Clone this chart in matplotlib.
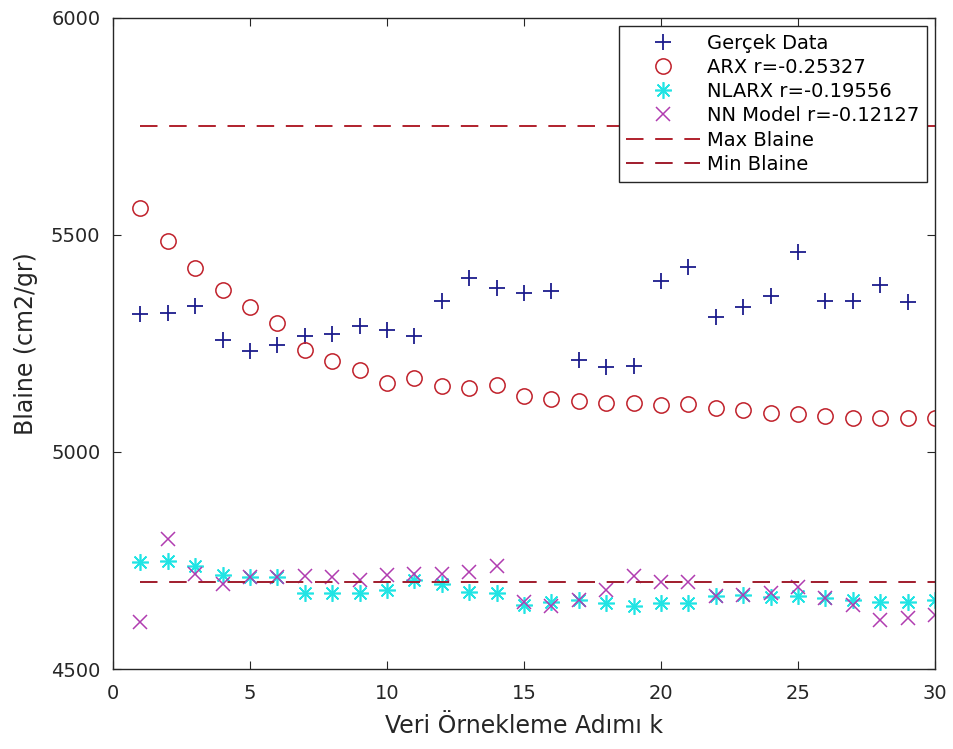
import numpy as np
import matplotlib
matplotlib.use("Agg")
import matplotlib.pyplot as plt

plt.rcParams['font.family'] = ['DejaVu Sans']

# ==============================
#  Data
# ==============================
k_real = np.arange(1, 30)
k_model = np.arange(1, 31)

gercek = [5319, 5321, 5336, 5259, 5233, 5246, 5267, 5273, 5290, 5282,
          5267, 5348, 5402, 5379, 5366, 5372, 5212, 5195, 5199, 5393,
          5426, 5311, 5334, 5360, 5460, 5349, 5349, 5385, 5345]

arx = [5562, 5487, 5425, 5373, 5333, 5298, 5236, 5210, 5188, 5160,
       5171, 5152, 5148, 5154, 5128, 5122, 5118, 5114, 5114, 5109,
       5110, 5101, 5097, 5091, 5087, 5082, 5078, 5078, 5078, 5078]

nlarx = [4746, 4750, 4737, 4717, 4713, 4711, 4676, 4676, 4676, 4682,
         4705, 4696, 4678, 4675, 4648, 4655, 4659, 4652, 4645, 4653,
         4653, 4668, 4671, 4667, 4668, 4663, 4659, 4655, 4655, 4659]

nn_model = [4609, 4799, 4719, 4696, 4713, 4713, 4714, 4711, 4705, 4717,
            4718, 4719, 4723, 4737, 4655, 4645, 4658, 4682, 4714, 4701,
            4701, 4668, 4671, 4675, 4690, 4663, 4648, 4613, 4617, 4625]

max_blaine = 5750
min_blaine = 4700

labels = ["Gerçek Data", "ARX r=-0.25327", "NLARX r=-0.19556",
          "NN Model r=-0.12127", "Max Blaine", "Min Blaine"]

# ==============================
#  Plot
# ==============================
fig = plt.figure(figsize=(9.54, 7.49), dpi=100)
ax = fig.add_axes([0.1184, 0.1068, 0.8616, 0.8692])

ax.plot(k_real, gercek, ls='none', marker='+', ms=12, mew=1.3,
        color='#1c1c8c', label=labels[0])
ax.plot(k_model, arx, ls='none', marker='o', ms=11, mew=1.1,
        mfc='none', mec='#c0202a', label=labels[1])
ax.plot(k_model, nlarx, ls='none', marker=(8, 2, 0), ms=12, mew=1.2,
        color='#22e4e4', label=labels[2])
ax.plot(k_model, nn_model, ls='none', marker='x', ms=10, mew=1.1,
        color='#b03cb0', label=labels[3])

# limit lines
dash = (0, (9, 6))
ax.plot(k_model, [max_blaine] * len(k_model), ls=dash, lw=1.4,
        color='#b0202c', label=labels[4])
ax.plot(k_model, [min_blaine] * len(k_model), ls=dash, lw=1.4,
        color='#a01c2c', label=labels[5])

ax.set_xlim(0, 30)
ax.set_ylim(4500, 6000)
ax.set_xticks(range(0, 31, 5))
ax.set_yticks(range(4500, 6001, 500))

ax.tick_params(direction='in', top=True, right=True, length=6,
               labelsize=14, colors='#262626')
ax.tick_params(axis='x', pad=11)
ax.tick_params(axis='y', pad=9)
for s in ax.spines.values():
    s.set_color('#262626')
    s.set_linewidth(1.0)

ax.set_xlabel("Veri Örnekleme Adımı k", fontsize=17, color='#262626',
              labelpad=8)
ax.set_ylabel("Blaine (cm2/gr)", fontsize=17, color='#262626',
              labelpad=9)

leg = ax.legend(loc='upper right', fontsize=14, frameon=True, fancybox=False,
                edgecolor='#262626', framealpha=1, handlelength=3.8,
                handletextpad=0.35, labelspacing=0.27, borderaxespad=0.4,
                borderpad=0.4)
leg.get_frame().set_linewidth(1.0)

fig.savefig("out.png", dpi=100)
